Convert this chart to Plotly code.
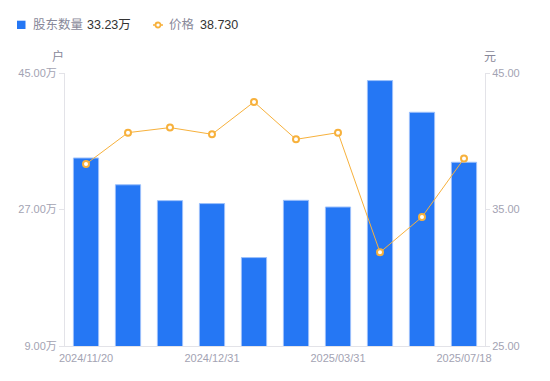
import plotly.graph_objects as go

dates = ["2024/11/20", "2024/11/29", "2024/12/10", "2024/12/31", "2025/01/20",
         "2025/02/28", "2025/03/31", "2025/04/30", "2025/06/30", "2025/07/18"]
holders = [33.79, 30.26, 28.17, 27.78, 20.66, 28.21, 27.33, 44.00, 39.82, 33.23]
price = [38.33, 40.63, 41.00, 40.51, 42.88, 40.14, 40.63, 31.86, 34.45, 38.73]
tick_dates = ["2024/11/20", "2024/12/31", "2025/03/31", "2025/07/18"]
left_ticks = [9, 27, 45]
right_ticks = [25, 35, 45]

FONT = "Liberation Sans, Noto Sans CJK SC, sans-serif"
GREY = "#a3a3b3"
AXIS = "#e3e3e8"
BLUE = "#2577f4"
ORANGE = "#f7b13c"

L, R, T, B = 65, 65, 73, 35
W, H = 550, 381
PW, PH = W - L - R, H - T - B


def px(x):
    return (x - L) / PW


def py(y):
    return (H - B - y) / PH


fig = go.Figure()
fig.add_trace(go.Bar(
    x=dates, y=holders, yaxis="y", name="股东数量",
    marker=dict(color=BLUE, line=dict(color="#9cc0fb", width=1)),
))
fig.add_trace(go.Scatter(
    x=dates, y=price, yaxis="y2", mode="lines+markers", name="价格",
    line=dict(color=ORANGE, width=1),
    marker=dict(symbol="circle", size=6, color="white", line=dict(color=ORANGE, width=2)),
))

leg_y = 25
annotations = [
    dict(text="户", x=0, y=1, xref="paper", yref="paper", xshift=-7, yshift=17,
         showarrow=False, font=dict(size=12, color="#888899"), xanchor="center", yanchor="middle"),
    dict(text="元", x=1, y=1, xref="paper", yref="paper", xshift=5, yshift=16,
         showarrow=False, font=dict(size=12, color="#888899"), xanchor="center", yanchor="middle"),
    dict(text="股东数量", x=px(31), y=py(leg_y), xref="paper", yref="paper", showarrow=False,
         xanchor="left", yanchor="middle", font=dict(size=12.5, color="#888899")),
    dict(text="%.2f万" % holders[-1], x=px(85), y=py(leg_y), xref="paper", yref="paper", showarrow=False,
         xanchor="left", yanchor="middle", font=dict(size=12.5, color="#333333")),
    dict(text="价格", x=px(167), y=py(leg_y), xref="paper", yref="paper", showarrow=False,
         xanchor="left", yanchor="middle", font=dict(size=12.5, color="#888899")),
    dict(text="%.3f" % price[-1], x=px(198), y=py(leg_y), xref="paper", yref="paper", showarrow=False,
         xanchor="left", yanchor="middle", font=dict(size=12.5, color="#333333")),
]
shapes = [
    dict(type="rect", xref="paper", yref="paper", x0=px(17), x1=px(25.5), y0=py(20.7), y1=py(29),
         fillcolor=BLUE, line=dict(width=0)),
    dict(type="line", xref="paper", yref="paper", x0=px(153), x1=px(163), y0=py(leg_y), y1=py(leg_y),
         line=dict(color=ORANGE, width=1.5)),
    dict(type="circle", xref="paper", yref="paper", x0=px(155.5), x1=px(160.5), y0=py(22.5), y1=py(27.5),
         fillcolor="white", line=dict(color=ORANGE, width=1.8)),
]

fig.update_layout(
    width=W, height=H,
    margin=dict(l=L, r=R, t=T, b=B, autoexpand=False),
    paper_bgcolor="white", plot_bgcolor="white",
    font=dict(family=FONT, size=11, color=GREY),
    bargap=0.4,
    showlegend=False,
    xaxis=dict(type="category", tickmode="array", tickvals=tick_dates, ticktext=tick_dates,
               range=[-0.5, len(dates) - 0.5],
               showline=True, linecolor=AXIS, linewidth=1, ticks="outside", ticklen=2,
               tickcolor="rgba(0,0,0,0)", showgrid=False,
               tickfont=dict(size=11, color=GREY), zeroline=False),
    yaxis=dict(range=[9, 45], tickvals=left_ticks,
               ticktext=["%.2f万" % v for v in left_ticks],
               showline=True, linecolor=AXIS, ticks="outside", ticklen=5, tickcolor=AXIS,
               showgrid=False, zeroline=False, tickfont=dict(size=11, color=GREY)),
    yaxis2=dict(range=[25, 45], tickvals=right_ticks,
                ticktext=["%.2f" % v for v in right_ticks],
                overlaying="y", side="right",
                showline=True, linecolor=AXIS, ticks="outside", ticklen=4, tickcolor=AXIS,
                showgrid=False, zeroline=False, tickfont=dict(size=11, color=GREY)),
    annotations=annotations,
    shapes=shapes,
)

fig.write_html(
    "out.html",
    config={"displayModeBar": False},
    post_script="document.body.style.margin='0';document.body.style.padding='0';",
)
